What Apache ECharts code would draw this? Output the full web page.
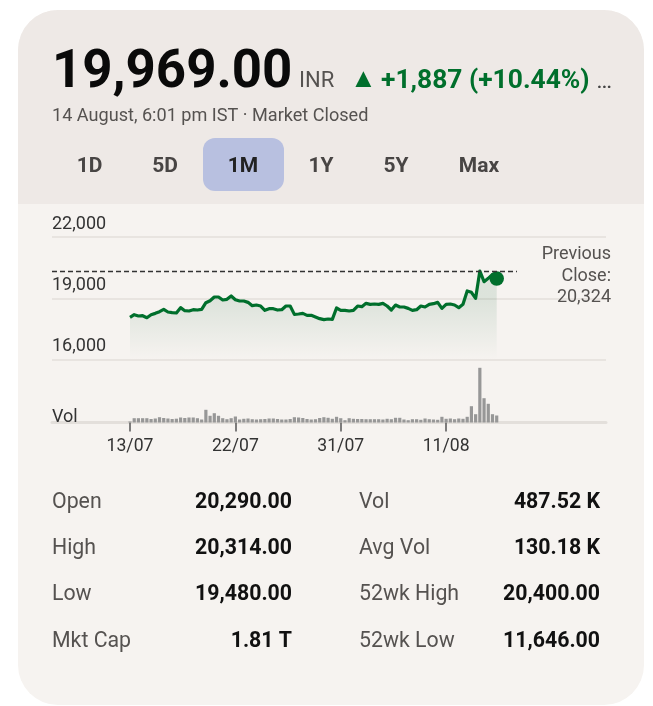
<!DOCTYPE html>
<html><head><meta charset="utf-8">
<style>html,body{margin:0;padding:0;background:#fff}#c{width:653px;height:706px}</style>
<script src="https://cdn.jsdelivr.net/npm/echarts@6/dist/echarts.min.js"></script>
</head><body><div id="c"></div>
<script>
const priceValues = [18070,18200,18136,18152,18054,18200,18266,18348,18462,18332,18299,18283,18544,18397,18381,18446,18429,18462,18788,18886,19065,19065,18919,18951,19114,18935,18870,18870,18804,18641,18674,18625,18413,18495,18495,18429,18446,18625,18625,18217,18234,18266,18169,18169,18087,18006,17957,17989,17973,18527,18413,18413,18381,18413,18625,18592,18756,18707,18723,18707,18756,18625,18429,18674,18576,18576,18511,18413,18446,18625,18576,18707,18739,18804,18511,18707,18723,18674,18544,18707,19359,19294,19000,20337,19815,19978,20174,19969];
const volumeValues = [1,4.3,4.3,4.3,4.3,3.5,4,5.3,4.5,4,3.5,3.8,5,4.5,5,5,4.3,3,12.7,6.7,9.3,6.7,4.3,3.3,4.3,6,3,3.7,4,3.3,3,3.3,3.5,4,4,3.5,3,3,3.5,5.3,5,4.5,3.5,3,3.3,4.5,5.3,4.7,3.7,5.7,4.3,2.3,4.3,3.7,3.5,3.5,3.3,3.3,3.3,3.3,3,3.7,3.3,4.7,4.7,3,2.3,3.3,3.3,2.7,4,3.3,3,2.7,5.7,3.7,4,3.3,4,3.7,5.7,16.3,8.3,54.7,24.3,18.7,8.3,7];
const tickIndexes = [0,25,50,75];
const tickLabels = ['13/07','22/07','31/07','11/08'];
const yTicks = [16000,19000,22000];
const previousClose = 20324;
const ranges = ['1D','5D','1M','1Y','5Y','Max'];
const statsLeft = [['Open','20,290.00'],['High','20,314.00'],['Low','19,480.00'],['Mkt Cap','1.81 T']];
const statsRight = [['Vol','487.52 K'],['Avg Vol','130.18 K'],['52wk High','20,400.00'],['52wk Low','11,646.00']];

const F='Roboto', GREEN='#006f2c', LINE='#e3dfdb';
const xMin=-18.505, xMax=112.93;
const T=(x,y,text,size,fill,weight,align)=>({type:'text',z:5,x,y,style:{text,fontFamily:F,fontSize:size,fill,fontWeight:weight||400,align:align||'left',verticalAlign:'middle'}});

const rangeX=[89.5,165,243,321,396,479];
const graphic=[
 {type:'rect',z:-3,shape:{x:18,y:10,width:626,height:695,r:40},style:{fill:'#f6f3f0'}},
 {type:'rect',z:-2,shape:{x:18,y:10,width:626,height:194,r:[40,40,0,0]},style:{fill:'#eee9e6'}},
 {type:'rect',z:-1,shape:{x:203,y:138,width:81,height:53,r:12},style:{fill:'#b8c0e0'}},
 T(52,74,'19,969.00',52.8,'#0a0a0a',700),
 T(299,81,'INR',22,'#555250'),
 T(350,80,'▲',27,GREEN),
 T(381,81,'+1,887 (+10.44%)',26.4,GREEN,700),
 T(597,84,'...',17,'#444',700),
 T(52,116,'14 August, 6:01 pm IST · Market Closed',18.1,'#555250'),
 ...ranges.map((r,i)=>T(rangeX[i],167,r,21,i===2?'#222':'#484544',700,'center')),
 T(611,254,'Previous',18,'#555250',400,'right'),
 T(611,276,'Close:',18,'#555250',400,'right'),
 T(611,297,'20,324',18,'#555250',400,'right'),
 T(52,417,'Vol',18,'#333'),
];
const rows=[503,549,595,642];
statsLeft.forEach((r,i)=>{graphic.push(T(52,rows[i],r[0],21.3,'#555250'),T(292,rows[i],r[1],21.3,'#111',700,'right'));});
statsRight.forEach((r,i)=>{graphic.push(T(359,rows[i],r[0],21.3,'#555250'),T(600,rows[i],r[1],21.3,'#111',700,'right'));});

const chart=echarts.init(document.getElementById('c'),null,{renderer:'canvas',devicePixelRatio:1});
chart.setOption({
 animation:false,
 backgroundColor:'transparent',
 textStyle:{fontFamily:F},
 graphic:{elements:graphic},
 grid:[
  {left:52,width:554,top:237,height:122.7},
  {left:52,width:554,top:360,height:62.5}
 ],
 xAxis:[
  {type:'value',gridIndex:0,min:xMin,max:xMax,show:false,splitLine:{show:false}},
  {type:'value',gridIndex:1,min:xMin,max:xMax,position:'bottom',splitLine:{show:false},
   axisLine:{show:true,onZero:false,lineStyle:{color:LINE,width:3}},
   axisTick:{show:true,customValues:tickIndexes,length:9,lineStyle:{color:'#555',width:1.5}},
   axisLabel:{show:true,customValues:tickIndexes,margin:15,fontFamily:F,fontSize:17.6,color:'#333',
     formatter:v=>tickLabels[tickIndexes.indexOf(v)]||''}}
 ],
 yAxis:[
  {type:'value',gridIndex:0,min:16000,max:22000,interval:3000,
   axisLine:{show:false},axisTick:{show:false},
   splitLine:{show:true,lineStyle:{color:LINE,width:1.5}},
   axisLabel:{show:true,inside:true,margin:0,verticalAlign:'bottom',padding:[0,0,4,0],fontFamily:F,fontSize:18,color:'#333',
     customValues:yTicks,formatter:v=>v.toLocaleString('en-US')}},
  {type:'value',gridIndex:1,min:0,max:62.5,show:false,splitLine:{show:false}}
 ],
 series:[
  {type:'line',xAxisIndex:0,yAxisIndex:0,z:3,
   data:priceValues.map((v,i)=>[i,v]),
   showSymbol:false,smooth:false,clip:false,
   lineStyle:{color:GREEN,width:3.2,join:'round'},
   itemStyle:{color:GREEN},
   areaStyle:{origin:'start',color:new echarts.graphic.LinearGradient(0,300,0,358,[
     {offset:0,color:'rgba(0,90,40,0.15)'},{offset:1,color:'rgba(0,90,40,0.005)'}],true)},
   markLine:{silent:true,symbol:'none',label:{show:false},
     lineStyle:{color:'#333',type:[5,3],width:1.4},
     data:[[{coord:[xMin,previousClose]},{coord:[91.8,previousClose]}]]}
  },
  {type:'scatter',xAxisIndex:0,yAxisIndex:0,z:4,symbolSize:14.5,itemStyle:{color:GREEN,opacity:1},
   data:[[priceValues.length-1,priceValues[priceValues.length-1]]]},
  {type:'bar',xAxisIndex:1,yAxisIndex:1,z:3,barWidth:3.2,itemStyle:{color:'#979797'},
   data:volumeValues.map((v,i)=>[i,v])}
 ]
});
</script></body></html>
